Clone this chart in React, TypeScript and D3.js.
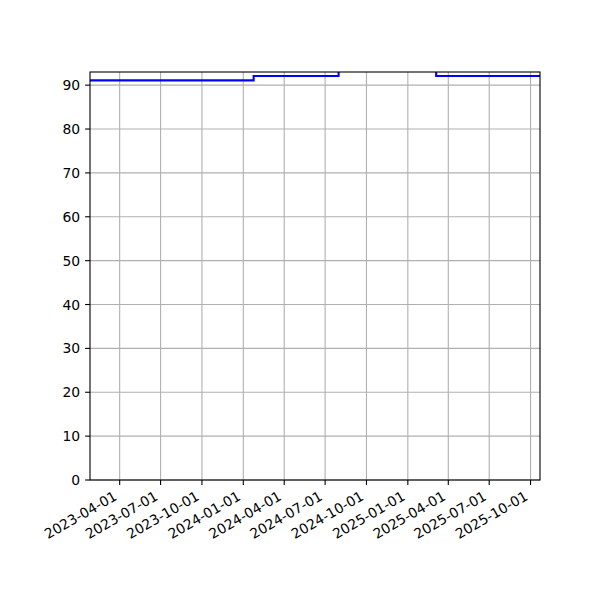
import { useRef, useEffect } from 'react'
import * as d3 from 'd3'

// step series: value holds from each date until the next one
const DATES = ['2023-01-25', '2024-01-24', '2024-07-31', '2025-03-05', '2025-10-22']
const VALUES = [91.1, 92.1, 94.0, 92.1, 92.1]

const X_TICKS = [
  '2023-04-01', '2023-07-01', '2023-10-01', '2024-01-01', '2024-04-01', '2024-07-01',
  '2024-10-01', '2025-01-01', '2025-04-01', '2025-07-01', '2025-10-01',
]
const Y_TICKS = [0, 10, 20, 30, 40, 50, 60, 70, 80, 90]
const X_RANGE = ['2023-01-25', '2025-10-22']
const Y_RANGE = [0, 93]

const parse = d3.utcParse('%Y-%m-%d')

export default function App() {
  const svgRef = useRef<SVGSVGElement>(null)

  useEffect(() => {
    if (!svgRef.current) return
    const svg = d3.select(svgRef.current)
    svg.selectAll('*').remove()

    const left = 90
    const right = 540
    const top = 72
    const bottom = 480
    const font = 'DejaVu Sans, sans-serif'
    const fs = 13.9
    const tickLen = 4.9

    const x = d3
      .scaleUtc()
      .domain(X_RANGE.map((d) => parse(d) as Date))
      .range([left, right])
    const y = d3.scaleLinear().domain(Y_RANGE).range([bottom, top])

    svg.append('rect').attr('width', 600).attr('height', 600).attr('fill', '#fff')

    // grid
    const grid = svg.append('g').attr('stroke', '#b0b0b0').attr('stroke-width', 1.1)
    X_TICKS.forEach((t) => {
      const xx = x(parse(t) as Date)
      grid.append('line').attr('x1', xx).attr('x2', xx).attr('y1', top).attr('y2', bottom)
    })
    Y_TICKS.forEach((t) => {
      grid.append('line').attr('x1', left).attr('x2', right).attr('y1', y(t)).attr('y2', y(t))
    })

    svg
      .append('clipPath')
      .attr('id', 'plot-clip')
      .append('rect')
      .attr('x', left)
      .attr('y', top)
      .attr('width', right - left)
      .attr('height', bottom - top)

    const pts = DATES.map((d, i) => [x(parse(d) as Date), y(VALUES[i])] as [number, number])
    const line = d3.line().curve(d3.curveStepAfter)
    svg
      .append('path')
      .attr('d', line(pts))
      .attr('fill', 'none')
      .attr('stroke', '#0000ff')
      .attr('stroke-width', 2.1)
      .attr('clip-path', 'url(#plot-clip)')

    // spines
    svg
      .append('rect')
      .attr('x', left)
      .attr('y', top)
      .attr('width', right - left)
      .attr('height', bottom - top)
      .attr('fill', 'none')
      .attr('stroke', '#000')
      .attr('stroke-width', 1.1)

    // x ticks + rotated labels
    const xa = svg.append('g')
    X_TICKS.forEach((t) => {
      const xx = x(parse(t) as Date)
      xa.append('line')
        .attr('x1', xx)
        .attr('x2', xx)
        .attr('y1', bottom)
        .attr('y2', bottom + tickLen)
        .attr('stroke', '#000')
        .attr('stroke-width', 1.1)
      xa.append('text')
        .attr('transform', `translate(${xx - 7},${bottom + tickLen + 4.9}) rotate(-30)`)
        .attr('text-anchor', 'end')
        .attr('dy', '0.76em')
        .attr('font-family', font)
        .attr('font-size', fs)
        .attr('fill', '#000')
        .text(t)
    })

    // y ticks
    const ya = svg.append('g')
    Y_TICKS.forEach((t) => {
      ya.append('line')
        .attr('x1', left - tickLen)
        .attr('x2', left)
        .attr('y1', y(t))
        .attr('y2', y(t))
        .attr('stroke', '#000')
        .attr('stroke-width', 1.1)
      ya.append('text')
        .attr('x', left - tickLen - 4.9)
        .attr('y', y(t))
        .attr('dy', '0.36em')
        .attr('text-anchor', 'end')
        .attr('font-family', font)
        .attr('font-size', fs)
        .attr('fill', '#000')
        .text(t)
    })
  }, [])

  return <svg ref={svgRef} width={600} height={600} style={{ display: 'block', margin: -8 }} />
}
